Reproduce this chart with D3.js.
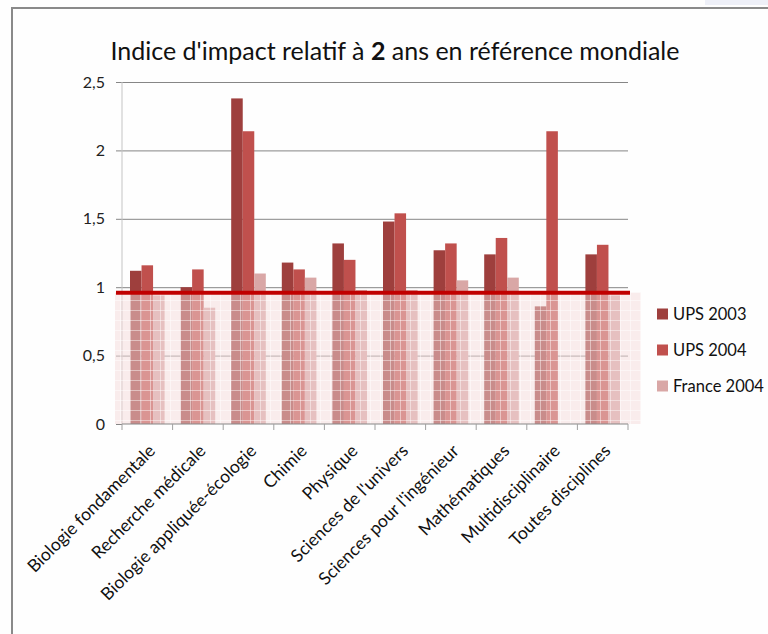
<!DOCTYPE html>
<html>
<head>
<meta charset="utf-8">
<script src="https://cdn.jsdelivr.net/npm/d3@7"></script>
<style>
  body { margin: 0; background: #fefefe; }
  svg { display: block; font-family: Lato, "Open Sans", sans-serif; }
</style>
</head>
<body>
<svg id="chart"></svg>
<script>
// categories and values
const categories = ["Biologie fondamentale", "Recherche médicale", "Biologie appliquée-écologie",
  "Chimie", "Physique", "Sciences de l'univers", "Sciences pour l'ingénieur",
  "Mathématiques", "Multidisciplinaire", "Toutes disciplines"];
const seriesNames = ["UPS 2003", "UPS 2004", "France 2004"];
const ups2003 = [1.12, 1.00, 2.38, 1.18, 1.32, 1.48, 1.27, 1.24, 0.86, 1.24];
const ups2004 = [1.16, 1.13, 2.14, 1.13, 1.20, 1.54, 1.32, 1.36, 2.14, 1.31];
const france2004 = [0.94, 0.85, 1.10, 1.07, 0.98, 0.98, 1.05, 1.07, null, 0.94];
const yTicks = [0, 0.5, 1, 1.5, 2, 2.5];
const referenceValue = 0.96;

const colors = ["#9e3f3d", "#c0504d", "#d9a7a6"];

const width = 768, height = 634;
const marginLeft = 122, marginRight = 140, marginTop = 82, marginBottom = 210;

const svg = d3.select("#chart")
    .attr("width", width)
    .attr("height", height)
    .attr("viewBox", [0, 0, width, height]);

// frame of the original picture (open on right and bottom)
svg.append("rect").attr("x", 705).attr("y", 0).attr("width", 63).attr("height", 5).attr("fill", "#eef0f8");
svg.append("path")
    .attr("d", `M12,${height} V8 H${width}`)
    .attr("fill", "none")
    .attr("stroke", "#8a8a8a")
    .attr("stroke-width", 2);

const xScale = d3.scaleBand(categories, [marginLeft, width - marginRight]);
const xSub = d3.scaleBand(seriesNames, [8, xScale.bandwidth() - 8]);
const yScale = d3.scaleLinear([0, 2.5], [height - marginBottom, marginTop]);

// gridlines + y labels
const yAxis = d3.axisLeft(yScale)
    .tickValues(yTicks)
    .tickSize(6)
    .tickFormat(d => String(d).replace(".", ","));

svg.append("g")
    .attr("transform", `translate(${marginLeft},0)`)
    .call(yAxis)
    .call(g => g.select(".domain").remove())
    .call(g => g.selectAll(".tick line").attr("stroke", "#868686"))
    .call(g => g.selectAll(".tick line").filter(d => d > 0).clone()
        .attr("x1", 0)
        .attr("x2", width - marginLeft - marginRight))
    .call(g => g.selectAll(".tick text")
        .attr("x", -17)
        .attr("font-size", 16)
        .attr("font-family", "Lato, sans-serif")
        .attr("fill", "#222"));

svg.append("line")
    .attr("x1", marginLeft).attr("x2", marginLeft)
    .attr("y1", marginTop).attr("y2", height - marginBottom)
    .attr("stroke", "#c4c4c4");

// bars
const rows = categories.map((c, i) => ({cat: c, vals: [ups2003[i], ups2004[i], france2004[i]]}));

svg.append("g")
  .selectAll("g")
  .data(rows)
  .join("g")
    .attr("transform", d => `translate(${xScale(d.cat)},0)`)
  .selectAll("rect")
  .data(d => d.vals.map((v, k) => ({k, v})).filter(e => e.v != null))
  .join("rect")
    .attr("x", e => xSub(seriesNames[e.k]))
    .attr("width", xSub.bandwidth())
    .attr("y", e => yScale(e.v))
    .attr("height", e => yScale(0) - yScale(e.v))
    .attr("fill", e => colors[e.k]);

// pale textured band under the reference line
const defs = svg.append("defs");
const pat = defs.append("pattern")
    .attr("id", "grid")
    .attr("patternUnits", "userSpaceOnUse")
    .attr("width", 10).attr("height", 10);
pat.append("path")
    .attr("d", "M0,0.5 H10 M0.5,0 V10")
    .attr("stroke", "#ffffff")
    .attr("stroke-opacity", 0.45)
    .attr("stroke-width", 1);

const bandY = yScale(referenceValue);
svg.append("rect")
    .attr("x", 115).attr("width", 641 - 115)
    .attr("y", bandY).attr("height", yScale(0) - bandY)
    .attr("fill", "#f4dada")
    .attr("fill-opacity", 0.5);
svg.append("rect")
    .attr("x", 115).attr("width", 641 - 115)
    .attr("y", bandY).attr("height", yScale(0) - bandY)
    .attr("fill", "url(#grid)");

// x axis
const xAxis = d3.axisBottom(xScale).tickSize(0).tickFormat("");
svg.append("g")
    .attr("transform", `translate(0,${yScale(0)})`)
    .call(xAxis)
    .call(g => g.select(".domain").attr("stroke", "#868686").attr("d", `M${marginLeft},0H${width - marginRight}`));

svg.append("g")
  .selectAll("line")
  .data(d3.range(categories.length + 1))
  .join("line")
    .attr("x1", i => marginLeft + i * xScale.bandwidth())
    .attr("x2", i => marginLeft + i * xScale.bandwidth())
    .attr("y1", yScale(0))
    .attr("y2", yScale(0) + 6)
    .attr("stroke", "#a0a0a0");

svg.append("g")
  .selectAll("text")
  .data(categories)
  .join("text")
    .attr("transform", d => `translate(${xScale(d) + xScale.bandwidth() / 2 + 9},${yScale(0) + 28}) rotate(-45)`)
    .attr("text-anchor", "end")
    .attr("font-size", 17.5)
    .attr("fill", "#111")
    .text(d => d);

// reference line
svg.append("line")
    .attr("x1", 116).attr("x2", 630)
    .attr("y1", bandY).attr("y2", bandY)
    .attr("stroke", "#c00000")
    .attr("stroke-width", 4);

// title
const title = svg.append("text")
    .attr("x", 395).attr("y", 60)
    .attr("text-anchor", "middle")
    .attr("font-size", 25)
    .attr("fill", "#111");
title.append("tspan").text("Indice d'impact relatif à ");
title.append("tspan").attr("font-weight", "bold").text("2");
title.append("tspan").text(" ans en référence mondiale");

// legend
const legend = svg.append("g")
  .selectAll("g")
  .data(seriesNames)
  .join("g")
    .attr("transform", (d, i) => `translate(657,${314 + i * 36})`);
legend.append("rect")
    .attr("y", -5.5).attr("width", 11).attr("height", 11)
    .attr("fill", (d, i) => colors[i]);
legend.append("text")
    .attr("x", 16).attr("dy", "0.35em")
    .attr("font-size", 16.5)
    .attr("fill", "#111")
    .text(d => d);
</script>
</body>
</html>
